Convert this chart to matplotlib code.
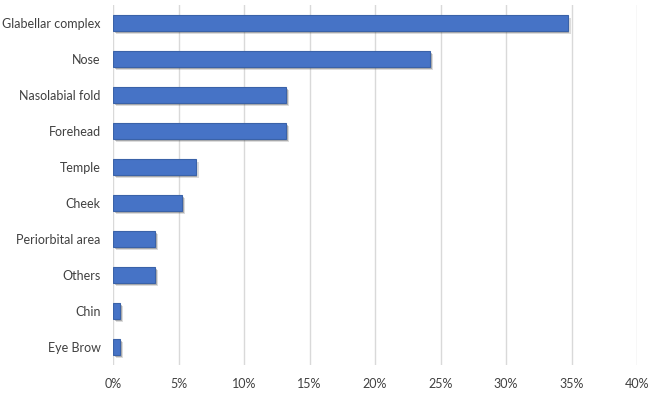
import matplotlib
matplotlib.use("Agg")
import matplotlib.pyplot as plt
import matplotlib.patheffects as pe
from matplotlib.ticker import FuncFormatter

categories = ["Glabellar complex", "Nose", "Nasolabial fold", "Forehead", "Temple",
              "Cheek", "Periorbital area", "Others", "Chin", "Eye Brow"]
values = [34.7, 24.2, 13.2, 13.2, 6.3, 5.3, 3.2, 3.2, 0.55, 0.55]
xticks = [0, 5, 10, 15, 20, 25, 30, 35, 40]

plt.rcParams['font.family'] = ['Lato', 'DejaVu Sans']

fig = plt.figure(figsize=(6.66, 3.97), dpi=100)
ax = fig.add_axes([113/666, 1-365/397, (637-113)/666, 360/397])

ypos = list(range(len(categories)))[::-1]
bars = ax.barh(ypos, values, height=0.46, color='#4673C6', edgecolor='#3A62A8',
               linewidth=0.8, zorder=3)
for b in bars:
    b.set_path_effects([
        pe.SimplePatchShadow(offset=(2.2, -2.2), shadow_rgbFace='#404040', alpha=0.18),
        pe.SimplePatchShadow(offset=(1.3, -1.3), shadow_rgbFace='#404040', alpha=0.3),
        pe.Normal()])

ax.set_xlim(0, 40)
ax.set_ylim(-0.5, len(categories)-0.5)
ax.set_xticks(xticks)
ax.xaxis.set_major_formatter(FuncFormatter(lambda v, p: f"{int(v)}%"))
ax.set_yticks(ypos)
ax.set_yticklabels(categories)
ax.grid(axis='x', color='#D9D9D9', linewidth=1, zorder=0)
ax.set_axisbelow(True)
for s in ax.spines.values():
    s.set_visible(False)
ax.tick_params(axis='both', length=0, labelsize=9, colors='#404040')
ax.tick_params(axis='x', pad=9)
ax.tick_params(axis='y', pad=9)

fig.savefig("out.png", dpi=100)
